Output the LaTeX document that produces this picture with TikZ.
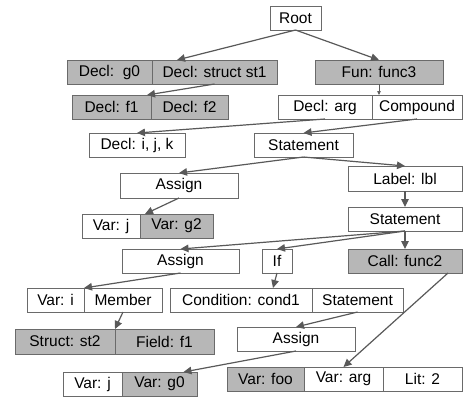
\documentclass[tikz,border=0pt]{standalone}
\usepackage{fontspec}
\setmainfont{Liberation Sans}
\usetikzlibrary{arrows.meta,calc}

\definecolor{boxline}{HTML}{6A6A6A}
\definecolor{cellgray}{HTML}{B7B7B7}
\definecolor{edgegray}{HTML}{595959}

\begin{document}
\begin{tikzpicture}[x=1pt,y=-1pt,
    cell/.style={draw=boxline,line width=0.9pt,fill=white,inner sep=0pt,outer sep=0pt,
      minimum height=24,font=\fontsize{15.5}{18}\selectfont},
    shaded/.style={cell,fill=cellgray},
    edge/.style={draw=edgegray,line width=1.2pt,-{Triangle[length=8pt,width=7.5pt]}},
    thinedge/.style={draw=edgegray,line width=0.6pt,-{Triangle[length=4pt,width=3.5pt]}}]
  \useasboundingbox (0,0) rectangle (463,397);
  % top levels
  \node[cell,minimum width=51] (root) at (295.5,18) {Root};
  \node[shaded,minimum width=85] (declgzero) at (109.5,72) {Decl:\ \ g0};
  \node[shaded,minimum width=125] (declstone) at (214.5,72) {Decl: struct st1};
  \node[shaded,minimum width=128] (functhree) at (379,72) {Fun: func3};
  \node[shaded,minimum width=79] (declfone) at (111.5,107) {Decl: f1};
  \node[shaded,minimum width=77] (declftwo) at (189.5,107) {Decl: f2};
  \node[cell,minimum width=94] (declarg) at (325,107) {Decl: arg};
  \node[cell,minimum width=90] (compound) at (417,107) {Compound};
  \node[cell,minimum width=96] (declijk) at (137,145) {Decl: i, j, k};
  \node[cell,minimum width=99] (stmtone) at (303.5,145) {Statement};
  % body
  \node[cell,minimum width=118,minimum height=25] (assignone) at (179,185.5) {Assign};
  \node[cell,minimum width=114,minimum height=25] (label) at (405,178.5) {Label: lbl};
  \node[cell,minimum width=58] (varjone) at (111,226) {Var: j};
  \node[shaded,minimum width=73] (vargtwo) at (176.5,226) {Var: g2};
  \node[cell,minimum width=114] (stmttwo) at (405,219) {Statement};
  \node[cell,minimum width=117] (assigntwo) at (180.5,261) {Assign};
  \node[cell,minimum width=30] (ifnode) at (277,261) {If};
  \node[shaded,minimum width=114] (callfunc) at (405,261) {Call: func2};
  \node[cell,minimum width=57] (vari) at (55.5,300) {Var: i};
  \node[cell,minimum width=78] (member) at (123,300) {Member};
  \node[cell,minimum width=142] (cond) at (241,300) {Condition: cond1};
  \node[cell,minimum width=91] (stmtthree) at (357.5,300) {Statement};
  \node[shaded,minimum width=100,minimum height=25] (structst) at (65,341.5) {Struct: st2};
  \node[shaded,minimum width=99,minimum height=25] (fieldf) at (164.5,341.5) {Field: f1};
  \node[cell,minimum width=118] (assignthree) at (296,339) {Assign};
  \node[cell,minimum width=59] (varjtwo) at (92.5,384) {Var: j};
  \node[shaded,minimum width=75] (vargzero) at (159.5,384) {Var: g0};
  \node[shaded,minimum width=77] (varfoo) at (265.5,379) {Var: foo};
  \node[cell,minimum width=79] (vararg) at (343.5,379) {Var: arg};
  \node[cell,minimum width=79] (litnum) at (422.5,379) {Lit: 2};
  % connectors
  \draw[edge] (root.south) -- ($(declstone.north west)+(25,0)$);
  \draw[edge] (root.south) -- (functhree.north);
  \draw[edge] (declstone.south) -- ($(declftwo.north west)+(-4,0)$);
  \draw[thinedge] (functhree.south) -- (functhree.south |- compound.north);
  \draw[edge] (declarg.south) -- (declijk.north);
  \draw[edge] (compound.south) -- (stmtone.north);
  \draw[edge] (stmtone.south) -- (assignone.north);
  \draw[edge] (stmtone.south) -- (label.north);
  \draw[edge] (assignone.south) -- ($(varjone.north east)+(5,0)$);
  \draw[edge] (label.south) -- (stmttwo.north);
  \draw[edge] (stmttwo.south) -- (assigntwo.north);
  \draw[edge] (stmttwo.south) -- (ifnode.north);
  \draw[edge] (stmttwo.south) -- (callfunc.north);
  \draw[edge] (assigntwo.south) -- (vari.north east);
  \draw[edge] (ifnode.south) -- ($(cond.north)+(32,0)$);
  \draw[edge] (member.south) -- (fieldf.north west);
  \draw[edge] (stmtthree.south) -- (assignthree.north);
  \draw[edge] (assignthree.south) -- ($(vargzero.north)+(24,0)$);
  \draw[edge] ($(callfunc.south east)+(-14,0)$) -- (vararg.north);
\end{tikzpicture}
\end{document}
